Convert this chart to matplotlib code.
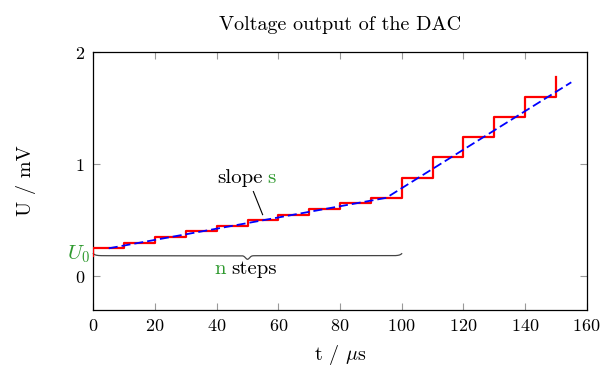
import numpy as np
import matplotlib
matplotlib.use('Agg')
import matplotlib.pyplot as plt

plt.rcParams['font.family'] = ['cmr10', 'DejaVu Serif']
plt.rcParams['mathtext.fontset'] = 'cm'
plt.rcParams['axes.formatter.use_mathtext'] = True

# staircase output of the DAC
t_steps = [0, 0, 10, 20, 30, 40, 50, 60, 70, 80, 90, 100, 110, 120, 130, 140, 150]
u_steps = [0.18, 0.25, 0.30, 0.35, 0.40, 0.45, 0.50, 0.55, 0.60, 0.65, 0.70,
           0.88, 1.06, 1.24, 1.42, 1.60, 1.78]

# ideal (dashed) curve
t_ideal = [5, 95, 155]
u_ideal = [0.25, 0.70, 1.73]

# annotations
u0_level = 0.184
brace_start, brace_end = 0, 100
slope_line_t = [51.9, 54.9]
slope_line_u = [0.756, 0.55]

xticks = [0, 20, 40, 60, 80, 100, 120, 140, 160]
yticks = [0, 1, 2]

green = '#2f9a2f'
fs = 13     # tick labels
lfs = 14.5  # title / axis labels
afs = 15    # annotations

fig = plt.figure(figsize=(6.01, 3.67), dpi=100)
ax = fig.add_axes([0.1553, 0.1553, 0.8209, 0.703])

ax.plot(t_steps, u_steps, drawstyle='steps-post', color='#ff0000', lw=1.6, zorder=3)
ax.plot(t_ideal, u_ideal, color='#0000ff', lw=1.3, ls=(0, (5, 2.2)), zorder=4)

# curly brace under the first 100 us
bx = np.linspace(brace_start, brace_end, 800)
mid = (brace_start + brace_end) / 2
by = u0_level + 0.018 * (np.exp(-(bx - brace_start) / 0.7) + np.exp(-(brace_end - bx) / 0.7)) \
     - 0.032 * np.exp(-((bx - mid) / 0.9) ** 2)
ax.plot(bx, by, color='#444444', lw=0.9, zorder=2, clip_on=False)

ax.plot(slope_line_t, slope_line_u, color='black', lw=0.8)
ax.text(55.0, 0.834, 'slope', ha='right', va='baseline', fontsize=afs)
ax.text(56.4, 0.834, 's', ha='left', va='baseline', fontsize=afs, color=green)
ax.text(43.0, 0.024, 'n', ha='right', va='baseline', fontsize=afs, color=green)
ax.text(44.8, 0.024, 'steps', ha='left', va='baseline', fontsize=afs)
ax.text(-1.2, u0_level + 0.01, '$U_0$', ha='right', va='center', fontsize=afs,
        color=green, clip_on=False)

ax.set_xlim(0, 160)
ax.set_ylim(-0.3, 2)
ax.set_xticks(xticks)
ax.set_yticks(yticks)
ax.tick_params(direction='in', length=5, width=0.8, color='#999999',
               top=True, right=True, labelsize=fs, pad=6)
for s in ax.spines.values():
    s.set_linewidth(0.9)

ax.set_title('Voltage output of the DAC', fontsize=lfs, pad=16)
ax.set_xlabel(r't / $\mu$s', fontsize=lfs, labelpad=6)
ax.set_ylabel('U / mV', fontsize=lfs, labelpad=28)

fig.savefig('out.png', dpi=100)
